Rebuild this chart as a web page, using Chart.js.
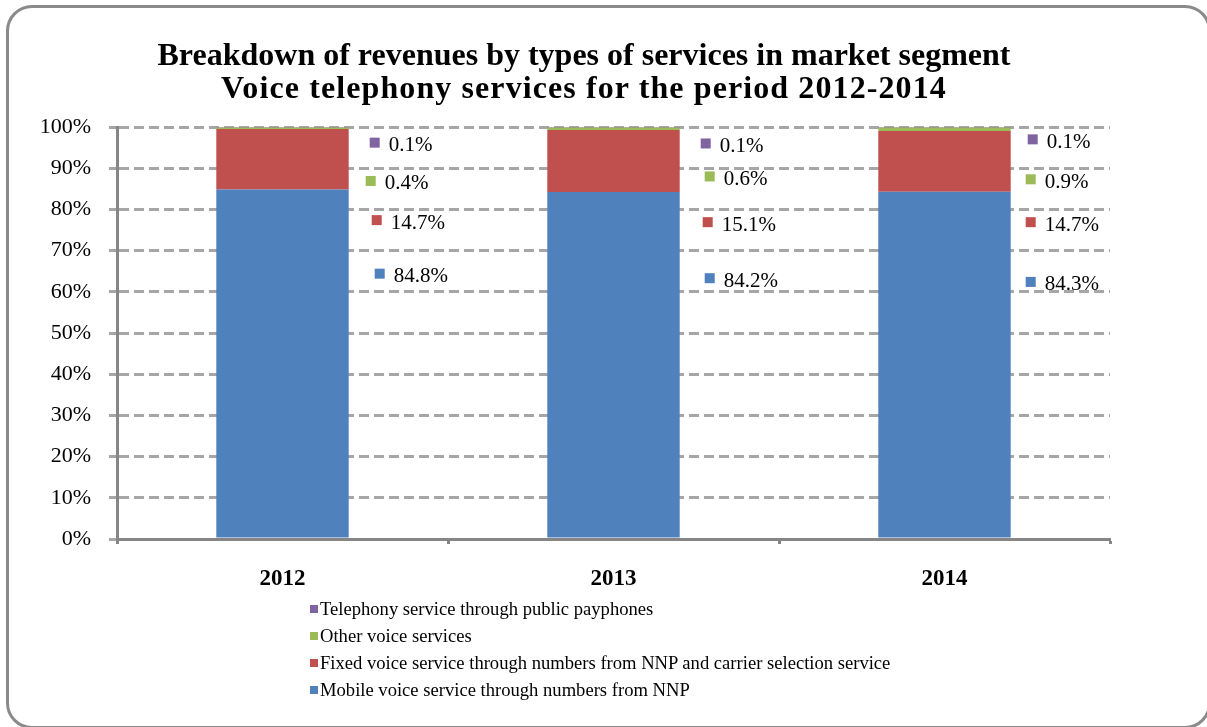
<!DOCTYPE html>
<html>
<head>
<meta charset="utf-8">
<title>Voice telephony revenues 2012-2014</title>
<script src="https://cdn.jsdelivr.net/npm/chart.js@4"></script>
<style>
  html, body { margin: 0; padding: 0; background: #fff; }
  #wrap { position: relative; width: 1207px; height: 727px; overflow: hidden; font-family: "Liberation Serif", "Times New Roman", serif; }
  #frame { position: absolute; left: 6px; top: 5px; width: 1205px; height: 724px; border: 3px solid #8a8a8a; border-radius: 26px; box-sizing: border-box; }
  #chart { position: absolute; left: 0; top: 0; }
  #title { position: absolute; left: 0; top: 38px; width: 1168px; text-align: center; font-weight: bold; font-size: 32px; line-height: 33px; color: #000; }
  #title .sub { letter-spacing: 1.1px; }
  #legend { position: absolute; left: 310px; top: 595px; font-size: 18.6px; color: #000; }
  #legend div { height: 27px; line-height: 27px; white-space: nowrap; }
  #legend span { display: inline-block; width: 8px; height: 8px; margin-right: 2px; vertical-align: 2px; }
</style>
</head>
<body>
<div id="wrap">
  <div id="frame"></div>
  <canvas id="chart" width="1207" height="727"></canvas>
  <div id="title">Breakdown of revenues by types of services in market segment<br><span class="sub">Voice telephony services for the period 2012-2014</span></div>
  <div id="legend"></div>
</div>
<script>
// revenue shares, %
const years = ['2012', '2013', '2014'];
const mobile = [84.8, 84.2, 84.3];
const fixed = [14.7, 15.1, 14.7];
const other = [0.4, 0.6, 0.9];
const payphones = [0.1, 0.1, 0.1];

const seriesNames = [
    'Mobile voice service through numbers from NNP',
    'Fixed voice service through numbers from NNP and carrier selection service',
    'Other voice services',
    'Telephony service through public payphones'
];
const seriesColors = ['#4f81bd', '#c0504d', '#9bbb59', '#8064a2'];

// where each value label sits (axis value) and how far right of the bar its key starts
const labelLevel = [
    [64.4, 63.3, 62.4],
    [77.4, 76.9, 76.9],
    [86.9, 88.0, 87.3],
    [96.2, 96.0, 97.0]
];
const labelShift = [
    [26, 25, 15],
    [23, 23, 15],
    [17, 25, 15],
    [21, 21, 17]
];

const serif = '"Liberation Serif", "Times New Roman", serif';
const axisGrey = '#868686';
const gridGrey = '#a6a6a6';

// value labels with a small colour key, drawn beside each bar
const sideLabels = {
    id: 'sideLabels',
    afterDatasetsDraw(chart) {
        const ctx = chart.ctx;
        const yScale = chart.scales.y;
        ctx.save();
        ctx.font = '21px ' + serif;
        ctx.textBaseline = 'middle';
        ctx.textAlign = 'left';
        chart.data.datasets.forEach((ds, i) => {
            const meta = chart.getDatasetMeta(i);
            meta.data.forEach((bar, j) => {
                const right = bar.x + bar.width / 2;
                const y = yScale.getPixelForValue(labelLevel[i][j]);
                const x = right + labelShift[i][j];
                ctx.fillStyle = ds.backgroundColor;
                ctx.fillRect(x, y - 5, 10, 10);
                ctx.fillStyle = '#000';
                ctx.fillText(ds.data[j].toFixed(1) + '%', x + 19, y + 3);
            });
        });
        ctx.restore();
    }
};

const chart = new Chart(document.getElementById('chart'), {
    type: 'bar',
    data: {
        labels: years,
        datasets: [mobile, fixed, other, payphones].map((values, i) => ({
            label: seriesNames[i],
            data: values,
            backgroundColor: seriesColors[i],
            borderWidth: 0,
            barPercentage: 0.4,
            categoryPercentage: 1
        }))
    },
    options: {
        responsive: false,
        animation: false,
        events: [],
        layout: { padding: { left: 20, right: 97, top: 127, bottom: 140 } },
        plugins: {
            legend: { display: false },
            title: { display: false },
            tooltip: { enabled: false }
        },
        scales: {
            x: {
                stacked: true,
                afterFit: scale => { scale.height = 48; },
                grid: {
                    offset: true,
                    drawOnChartArea: false,
                    tickLength: 5,
                    tickColor: axisGrey,
                    tickWidth: 3
                },
                border: { color: axisGrey, width: 3 },
                ticks: {
                    color: '#000',
                    padding: 21,
                    font: { family: serif, size: 23, weight: 'bold' }
                }
            },
            y: {
                stacked: true,
                min: 0,
                max: 100,
                afterFit: scale => { scale.width = 97; },
                grid: {
                    color: gridGrey,
                    lineWidth: 3,
                    tickLength: 8,
                    tickColor: gridGrey,
                    tickWidth: 3,
                    tickBorderDash: []
                },
                border: { color: axisGrey, width: 3, dash: [10, 5] },
                ticks: {
                    stepSize: 10,
                    color: '#000',
                    padding: 18,
                    font: { family: serif, size: 22 },
                    callback: v => v + '%'
                }
            }
        }
    },
    plugins: [sideLabels]
});

// legend, listed top to bottom in reverse stacking order
const legendBox = document.getElementById('legend');
for (let i = chart.data.datasets.length - 1; i >= 0; i--) {
    const row = document.createElement('div');
    const key = document.createElement('span');
    key.style.background = chart.data.datasets[i].backgroundColor;
    row.appendChild(key);
    row.appendChild(document.createTextNode(chart.data.datasets[i].label));
    legendBox.appendChild(row);
}
</script>
</body>
</html>
